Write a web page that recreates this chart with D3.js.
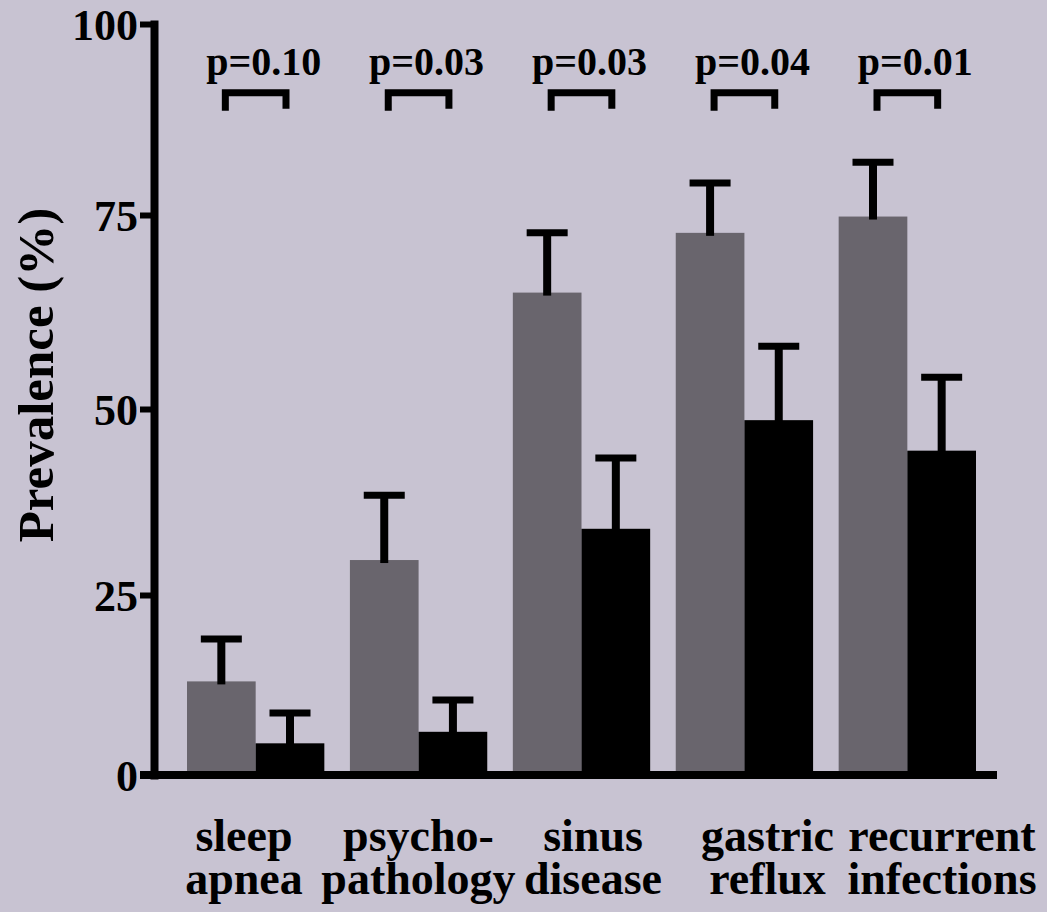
<!DOCTYPE html>
<html>
<head>
<meta charset="utf-8">
<script src="https://cdn.jsdelivr.net/npm/d3@7"></script>
<style>
    html, body { margin: 0; padding: 0; background: #c8c3d2; }
    svg text { font-family: "Liberation Serif", "Times New Roman", serif; font-weight: 700; fill: #000; }
</style>
</head>
<body>
<svg id="chart" width="1047" height="912"></svg>
<script>
// data
var categories = [["sleep", "apnea"], ["psycho-", "pathology"], ["sinus", "disease"], ["gastric", "reflux"], ["recurrent", "infections"]];
var grayValues = [13, 29.7, 65, 72.7, 74.8];
var grayUpper = [18.9, 38.4, 72.7, 79.2, 81.9];
var blackValues = [4.4, 6, 33.9, 48.5, 44.4];
var blackUpper = [8.6, 10.4, 43.4, 58.1, 54.1];
var pValues = ["p=0.10", "p=0.03", "p=0.03", "p=0.04", "p=0.01"];
var bracketLevel = 91;
var yTicks = [0, 25, 50, 75, 100];

var svg = d3.select("#chart");
var W = 1047, H = 912;

svg.append("rect").attr("width", W).attr("height", H).attr("fill", "#c8c3d2");

// the scanned axis is not quite linear, so the ticks are pinned one by one
var y = d3.scaleLinear()
    .domain(yTicks)
    .range([775, 595, 409, 215, 24]);

var x = d3.scaleBand()
    .domain(d3.range(categories.length))
    .range([187, 976])
    .paddingInner(0.157)
    .paddingOuter(0);

var xSub = d3.scaleBand()
    .domain(["gray", "black"])
    .range([0, x.bandwidth()]);

var labelX = d3.scalePoint()
    .domain(d3.range(categories.length))
    .range([244, 942]);

var rows = categories.map(function (c, i) {
    return {
        i: i,
        bars: [
            {key: "gray", v: grayValues[i], up: grayUpper[i], color: "#69656d"},
            {key: "black", v: blackValues[i], up: blackUpper[i], color: "#000"}
        ]
    };
});

// bars
var groups = svg.selectAll(".group")
    .data(rows)
    .enter().append("g")
    .classed("group", true)
    .attr("transform", function (d) {
        return "translate(" + x(d.i) + ",0)";
    });

groups.selectAll(".bar")
    .data(function (d) { return d.bars; })
    .enter().append("rect")
    .classed("bar", true)
    .attr("x", function (d) { return xSub(d.key); })
    .attr("width", xSub.bandwidth())
    .attr("y", function (d) { return y(d.v); })
    .attr("height", function (d) { return y(0) - y(d.v); })
    .attr("fill", function (d) { return d.color; });

// error bars (upper only)
var capW = 41;
groups.selectAll(".stem")
    .data(function (d) { return d.bars; })
    .enter().append("line")
    .classed("stem", true)
    .attr("x1", function (d) { return xSub(d.key) + xSub.bandwidth() / 2; })
    .attr("x2", function (d) { return xSub(d.key) + xSub.bandwidth() / 2; })
    .attr("y1", function (d) { return y(d.v) + 3; })
    .attr("y2", function (d) { return y(d.up); })
    .attr("stroke", "#000")
    .attr("stroke-width", 8);

groups.selectAll(".cap")
    .data(function (d) { return d.bars; })
    .enter().append("line")
    .classed("cap", true)
    .attr("x1", function (d) { return xSub(d.key) + xSub.bandwidth() / 2 - capW / 2; })
    .attr("x2", function (d) { return xSub(d.key) + xSub.bandwidth() / 2 + capW / 2; })
    .attr("y1", function (d) { return y(d.up); })
    .attr("y2", function (d) { return y(d.up); })
    .attr("stroke", "#000")
    .attr("stroke-width", 7);

// significance brackets
var bw = x.bandwidth() / 2;
groups.append("path")
    .attr("d", function () {
        var x0 = x.bandwidth() / 2 - bw / 2 + 4, x1 = x.bandwidth() / 2 + bw / 2 - 4;
        var yt = y(bracketLevel);
        return "M" + x0 + " " + (yt + 18) + " L" + x0 + " " + yt + " L" + x1 + " " + yt + " L" + x1 + " " + (yt + 16);
    })
    .attr("fill", "none")
    .attr("stroke", "#000")
    .attr("stroke-width", 7)
    .attr("stroke-linejoin", "miter");

groups.append("text")
    .attr("x", x.bandwidth() / 2 + 8)
    .attr("y", 75)
    .attr("text-anchor", "middle")
    .style("font-size", "40px")
    .text(function (d) { return pValues[d.i]; });

// y axis
var yAxis = d3.axisLeft(y)
    .tickValues(yTicks)
    .tickSize(14)
    .tickSizeOuter(0)
    .tickPadding(2)
    .tickFormat(d3.format("d"));

var ya = svg.append("g")
    .attr("transform", "translate(154,0)")
    .call(yAxis)
    .attr("font-family", null)
    .attr("font-size", null);

ya.select(".domain")
    .attr("stroke", "#000")
    .attr("stroke-width", 8)
    .attr("stroke-linecap", "square");
ya.selectAll(".tick line")
    .attr("stroke", "#000")
    .attr("stroke-width", 6);
ya.selectAll(".tick text")
    .style("font-size", "44px")
    .attr("dy", "0.35em");

// x axis line
svg.append("line")
    .attr("x1", 140)
    .attr("x2", x.range()[1] + 21)
    .attr("y1", y(0))
    .attr("y2", y(0))
    .attr("stroke", "#000")
    .attr("stroke-width", 8);

// category labels
var cl = svg.selectAll(".cat")
    .data(categories)
    .enter().append("text")
    .classed("cat", true)
    .attr("text-anchor", "middle")
    .style("font-size", "46px");

cl.append("tspan")
    .attr("x", function (d, i) { return labelX(i); })
    .attr("y", 851)
    .text(function (d) { return d[0]; });
cl.append("tspan")
    .attr("x", function (d, i) { return labelX(i); })
    .attr("y", 894)
    .text(function (d) { return d[1]; });

// y title
svg.append("text")
    .attr("transform", "translate(53,375) rotate(-90)")
    .attr("text-anchor", "middle")
    .style("font-size", "51px")
    .text("Prevalence (%)");
</script>
</body>
</html>
